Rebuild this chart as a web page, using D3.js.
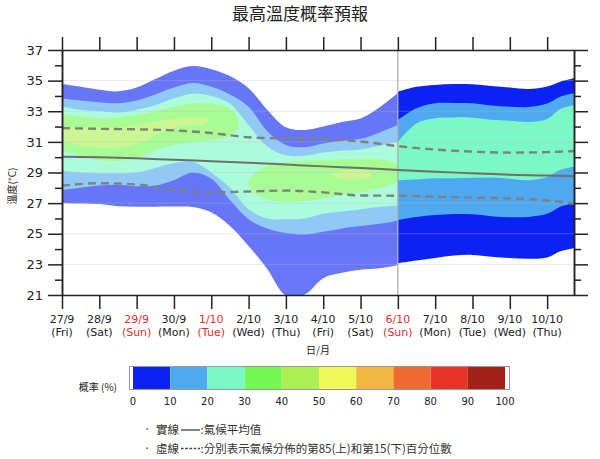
<!DOCTYPE html>
<html><head><meta charset="utf-8">
<script src="https://cdn.jsdelivr.net/npm/d3@7"></script>
<style>body{margin:0;background:#fff;} svg{display:block;}</style>
</head><body><svg id="c" width="600" height="459"></svg>
<script>
// ---------- data ----------
const dayLabels = ["27/9","28/9","29/9","30/9","1/10","2/10","3/10","4/10","5/10","6/10","7/10","8/10","9/10","10/10"];
const weekLabels = ["(Fri)","(Sat)","(Sun)","(Mon)","(Tue)","(Wed)","(Thu)","(Fri)","(Sat)","(Sun)","(Mon)","(Tue)","(Wed)","(Thu)"];
const holidayFlags = [0,0,1,0,1,0,0,0,0,1,0,0,0,0];
const yMajorTicks = [21,23,25,27,29,31,33,35,37];
const yMinorTicks = [22,24,26,28,30,32,34,36];
const probTicks = [0,10,20,30,40,50,60,70,80,90,100];
const probColors = ["#0b22f2","#4ea9f0","#7af8c8","#74f853","#aaf052","#f0f858","#f2b842","#ef6a30","#e83426","#a22218"];

// left part (27/9 - 6/10): probability contour bounds (°C)
const leftDays   = [0,0.5,1,1.5,2,2.5,3,3.5,4,4.5,5,5.5,6,6.5,7,7.5,8,8.5,9];
const leftP0Top  = [34.78,34.6,34.4,34.3,34.55,35.1,35.65,35.95,35.75,35.3,34.5,33.1,31.95,31.77,32.0,32.3,32.53,33.25,34.2];
const leftP0Bot  = [27.0,26.98,26.94,26.8,26.77,26.77,26.78,26.75,26.4,25.5,24.2,22.7,20.97,21.03,22.1,22.45,22.65,22.75,22.95];
const leftP10Top = [33.84,33.7,33.58,33.52,33.7,34.1,34.55,34.85,34.6,34.1,33.3,31.7,30.8,30.65,30.9,31.05,31.2,31.6,32.1];
const leftP10Bot = [27.86,28.0,28.15,28.2,28.1,28.15,28.5,29.0,28.6,27.2,25.95,25.35,25.05,24.95,25.13,25.35,25.5,25.65,25.85];
const leftP20Top = [33.3,33.1,33.0,32.92,33.1,33.4,33.85,34.15,34.0,33.5,32.1,30.7,30.12,30.1,30.3,30.42,30.5,30.75,31.0];
const leftP20Bot = [29.1,29.0,28.95,28.95,29.0,29.3,29.6,29.7,29.0,28.0,26.6,26.0,25.95,26.0,26.3,26.45,26.6,26.75,26.85];
const green30a  = [[-0.3,32.9],[0,32.8],[0.5,32.65],[1,32.54],[1.5,32.6],[2,32.75],[2.5,33.0],[3,33.3],[3.5,33.52],[4,33.5],[4.4,33.3],[4.68,32.7],[4.72,31.9],[4.45,31.3],[4,31.1],[3.5,31.0],[3,30.8],[2.5,30.45],[2,29.95],[1.5,29.75],[1,29.8],[0.5,30.1],[0,30.47],[-0.3,30.6]];
const yellow40a = [[-0.3,32.05],[0,32.02],[1,31.95],[1.73,32.0],[2.45,32.32],[3.07,32.56],[3.6,32.64],[3.93,32.45],[3.85,32.2],[3.34,32.05],[2.63,31.6],[2.2,31.05],[1.73,30.7],[1.02,30.62],[0.3,30.85],[0,31.02],[-0.3,31.15]];
const green30b  = [[5.0,28.4],[5.2,29.05],[5.6,29.5],[6.2,29.7],[7,29.8],[8,29.9],[8.7,29.8],[9.05,29.4],[9.12,28.9],[8.95,28.35],[8.3,27.85],[7.3,27.45],[6.4,27.12],[5.7,27.15],[5.2,27.6]];
const yellow40b = [[7.22,28.85],[7.5,29.12],[7.9,29.2],[8.28,29.0],[8.25,28.68],[7.9,28.55],[7.5,28.6]];

// right part (6/10 onwards)
const rightDays   = [9,9.5,10,10.5,11,11.5,12,12.5,13,13.35,13.72];
const rightP0Top  = [34.28,34.6,34.72,34.78,34.76,34.65,34.55,34.45,34.62,34.93,35.15];
const rightP0Bot  = [23.07,23.25,23.42,23.58,23.62,23.5,23.42,23.36,23.45,23.85,24.05];
const rightP10Top = [32.43,33.2,33.52,33.54,33.52,33.38,33.3,33.28,33.5,33.95,34.17];
const rightP10Bot = [25.9,26.1,26.22,26.29,26.27,26.15,26.08,26.1,26.3,26.77,27.0];
const rightP20Top = [31.0,32.2,32.54,32.6,32.58,32.45,32.38,32.3,32.5,33.15,33.4];
const rightP20Bot = [28.5,28.55,28.62,28.62,28.65,28.68,28.6,28.5,28.7,29.16,29.38];

// climate lines
const climDays = [0,1,2,3,4,5,6,7,8,9,10,11,12,13,13.72];
const climMean = [30.03,30.0,29.93,29.83,29.74,29.64,29.52,29.4,29.3,29.17,29.05,28.95,28.85,28.8,28.75];
const climP85  = [31.9,31.85,31.82,31.75,31.58,31.3,31.22,31.18,31.02,30.72,30.5,30.36,30.3,30.33,30.4];
const climP15  = [28.14,28.3,28.22,27.85,27.7,27.76,27.82,27.7,27.5,27.48,27.42,27.36,27.3,27.18,26.95];

// ---------- drawing ----------
const svg = d3.select("#c");
const FONT = '"DejaVu Sans", sans-serif';
const CJK = '"Noto Sans CJK TC", sans-serif';
const x = d3.scaleLinear().domain([0, 13.72]).range([62, 574]);
const y = d3.scaleLinear().domain([21, 37]).range([295, 50]);
const split = 9;

const defs = svg.append("defs");
defs.append("clipPath").attr("id","plot").append("rect")
  .attr("x", x(0)).attr("y", y(37)).attr("width", x(13.72)-x(0)).attr("height", y(21)-y(37));
defs.append("clipPath").attr("id","leftc").append("rect")
  .attr("x", x(0)).attr("y", 0).attr("width", x(split)-x(0)).attr("height", 459);
defs.append("clipPath").attr("id","rightc").append("rect")
  .attr("x", x(split)).attr("y", 0).attr("width", x(13.72)-x(split)).attr("height", 459);

const plot = svg.append("g").attr("clip-path","url(#plot)");

function bandPath(days, lo, hi){
  return d3.area().x(d=>x(d)).y0((d,i)=>y(lo[i])).y1((d,i)=>y(hi[i]))
    .curve(d3.curveCatmullRom)(days);
}
const island = d3.line().x(p=>x(p[0])).y(p=>y(p[1])).curve(d3.curveCatmullRomClosed);

const left = plot.append("g").attr("clip-path","url(#leftc)").attr("opacity",0.62);
left.append("path").attr("d", bandPath(leftDays,leftP0Bot,leftP0Top)).attr("fill",probColors[0]);
left.append("path").attr("d", bandPath(leftDays,leftP10Bot,leftP10Top)).attr("fill",probColors[1]);
left.append("path").attr("d", bandPath(leftDays,leftP20Bot,leftP20Top)).attr("fill",probColors[2]);
left.append("path").attr("d", island(green30a)).attr("fill",probColors[3]);
left.append("path").attr("d", island(green30b)).attr("fill",probColors[3]);
left.append("path").attr("d", island(yellow40a)).attr("fill",probColors[4]);
left.append("path").attr("d", island(yellow40b)).attr("fill",probColors[4]);

const right = plot.append("g").attr("clip-path","url(#rightc)");
right.append("path").attr("d", bandPath(rightDays,rightP0Bot,rightP0Top)).attr("fill",probColors[0]);
right.append("path").attr("d", bandPath(rightDays,rightP10Bot,rightP10Top)).attr("fill",probColors[1]);
right.append("path").attr("d", bandPath(rightDays,rightP20Bot,rightP20Top)).attr("fill",probColors[2]);

// faint grid
plot.selectAll("line.grid").data(yMajorTicks.slice(1,-1)).join("line")
  .attr("x1", x(0)).attr("x2", x(13.72)).attr("y1", d=>y(d)).attr("y2", d=>y(d))
  .attr("stroke","#bbb").attr("stroke-opacity",0.3).attr("stroke-width",1);

// divider at 6/10
plot.append("line").attr("x1",x(split)).attr("x2",x(split)).attr("y1",y(37)).attr("y2",y(21))
  .attr("stroke","#aaa").attr("stroke-width",1.2);

// climate lines
const cl = d3.line().x((d,i)=>x(climDays[i])).y(d=>y(d)).curve(d3.curveMonotoneX);
plot.append("path").attr("d", cl(climMean)).attr("fill","none").attr("stroke","#6e6e6e").attr("stroke-width",2);
plot.append("path").attr("d", cl(climP85)).attr("fill","none").attr("stroke","#808080").attr("stroke-width",2.4).attr("stroke-dasharray","8,5");
plot.append("path").attr("d", cl(climP15)).attr("fill","none").attr("stroke","#808080").attr("stroke-width",2.4).attr("stroke-dasharray","8,5");

// axes
function styleAxis(g){
  g.selectAll(".domain").attr("stroke","#222").attr("stroke-width",1.5);
  g.selectAll(".tick line").attr("stroke","#222").attr("stroke-width",1.5);
}
const dayTicks = d3.range(14);
const ax = svg.append("g");
const gL = ax.append("g").attr("transform",`translate(${x(0)},0)`)
  .call(d3.axisLeft(y).tickValues(yMajorTicks).tickSize(14).tickSizeOuter(0).tickPadding(5).tickFormat(d3.format("d")));
gL.selectAll("text").attr("font-family",FONT).attr("font-size",13).attr("fill","#222");
styleAxis(gL);
const gLm = ax.append("g").attr("transform",`translate(${x(0)},0)`)
  .call(d3.axisLeft(y).tickValues(yMinorTicks).tickSize(7).tickSizeOuter(0).tickFormat(""));
styleAxis(gLm);
const gR = ax.append("g").attr("transform",`translate(${x(13.72)},0)`)
  .call(d3.axisRight(y).tickValues(yMajorTicks).tickSize(14).tickSizeOuter(0).tickFormat(""));
styleAxis(gR);
const gRm = ax.append("g").attr("transform",`translate(${x(13.72)},0)`)
  .call(d3.axisRight(y).tickValues(yMinorTicks).tickSize(7).tickSizeOuter(0).tickFormat(""));
styleAxis(gRm);
const gB = ax.append("g").attr("transform",`translate(0,${y(21)})`)
  .call(d3.axisBottom(x).tickValues(dayTicks).tickSize(14).tickSizeOuter(0).tickFormat(""));
styleAxis(gB);
const gT = ax.append("g").attr("transform",`translate(0,${y(37)})`)
  .call(d3.axisTop(x).tickValues(dayTicks).tickSize(13).tickSizeOuter(0).tickFormat(""));
styleAxis(gT);

// x labels
const xl = svg.append("g").attr("font-family",FONT).attr("font-size",11).attr("text-anchor","middle");
dayTicks.forEach(i=>{
  const col = holidayFlags[i] ? "#e0302a" : "#222";
  xl.append("text").attr("x",x(i)).attr("y",323).attr("fill",col).text(dayLabels[i]);
  xl.append("text").attr("x",x(i)).attr("y",335.5).attr("fill",col).text(weekLabels[i]);
});

// titles
svg.append("text").attr("x",300).attr("y",20).attr("text-anchor","middle")
  .attr("font-family",CJK).attr("font-size",17).attr("fill","#222").text("最高溫度概率預報");
svg.append("text").attr("x",318).attr("y",354).attr("text-anchor","middle")
  .attr("font-family",CJK).attr("font-size",10).attr("fill","#222").text("日/月");
svg.append("text").attr("transform","translate(16,186) rotate(-90)").attr("text-anchor","middle")
  .attr("font-family",CJK).attr("font-size",10).attr("fill","#222").text("溫度(°C)");

// colour bar
const lx = d3.scaleLinear().domain([0,100]).range([133,505]);
const lg = svg.append("g");
lg.selectAll("rect.seg").data(probColors).join("rect")
  .attr("x",(d,i)=>lx(probTicks[i])).attr("width",(d,i)=>lx(probTicks[i+1])-lx(probTicks[i]))
  .attr("y",367).attr("height",22).attr("fill",d=>d);
lg.append("rect").attr("x",129.5).attr("y",366.5).attr("width",380).attr("height",23)
  .attr("fill","none").attr("stroke","#999").attr("stroke-width",1);
lg.selectAll("text.tk").data(probTicks).join("text")
  .attr("x",d=>lx(d)).attr("y",405).attr("text-anchor","middle")
  .attr("font-family",FONT).attr("font-size",10).attr("fill","#222").text(d=>d);
lg.append("text").attr("x",117).attr("y",391).attr("text-anchor","end")
  .attr("font-family",CJK).attr("font-size",10).attr("fill","#222").text("概率 (%)");

// notes
const nt = svg.append("g").attr("font-family",CJK).attr("font-size",11.5).attr("fill","#333");
nt.append("text").attr("x",147).attr("y",434).attr("text-anchor","middle").attr("font-family",FONT).text("·");
nt.append("text").attr("x",156).attr("y",434).text("實線");
nt.append("line").attr("x1",181).attr("x2",200).attr("y1",430).attr("y2",430).attr("stroke","#444").attr("stroke-width",1.3);
nt.append("text").attr("x",200.5).attr("y",434).text(":氣候平均值");
nt.append("text").attr("x",147).attr("y",452.5).attr("text-anchor","middle").attr("font-family",FONT).text("·");
nt.append("text").attr("x",156).attr("y",452.5).text("虛線");
nt.append("line").attr("x1",181).attr("x2",200).attr("y1",448.5).attr("y2",448.5).attr("stroke","#444").attr("stroke-width",1.3).attr("stroke-dasharray","2.6,1.6");
nt.append("text").attr("x",200.5).attr("y",452.5).text(":分別表示氣候分佈的第85(上)和第15(下)百分位數");
</script>
</body></html>
